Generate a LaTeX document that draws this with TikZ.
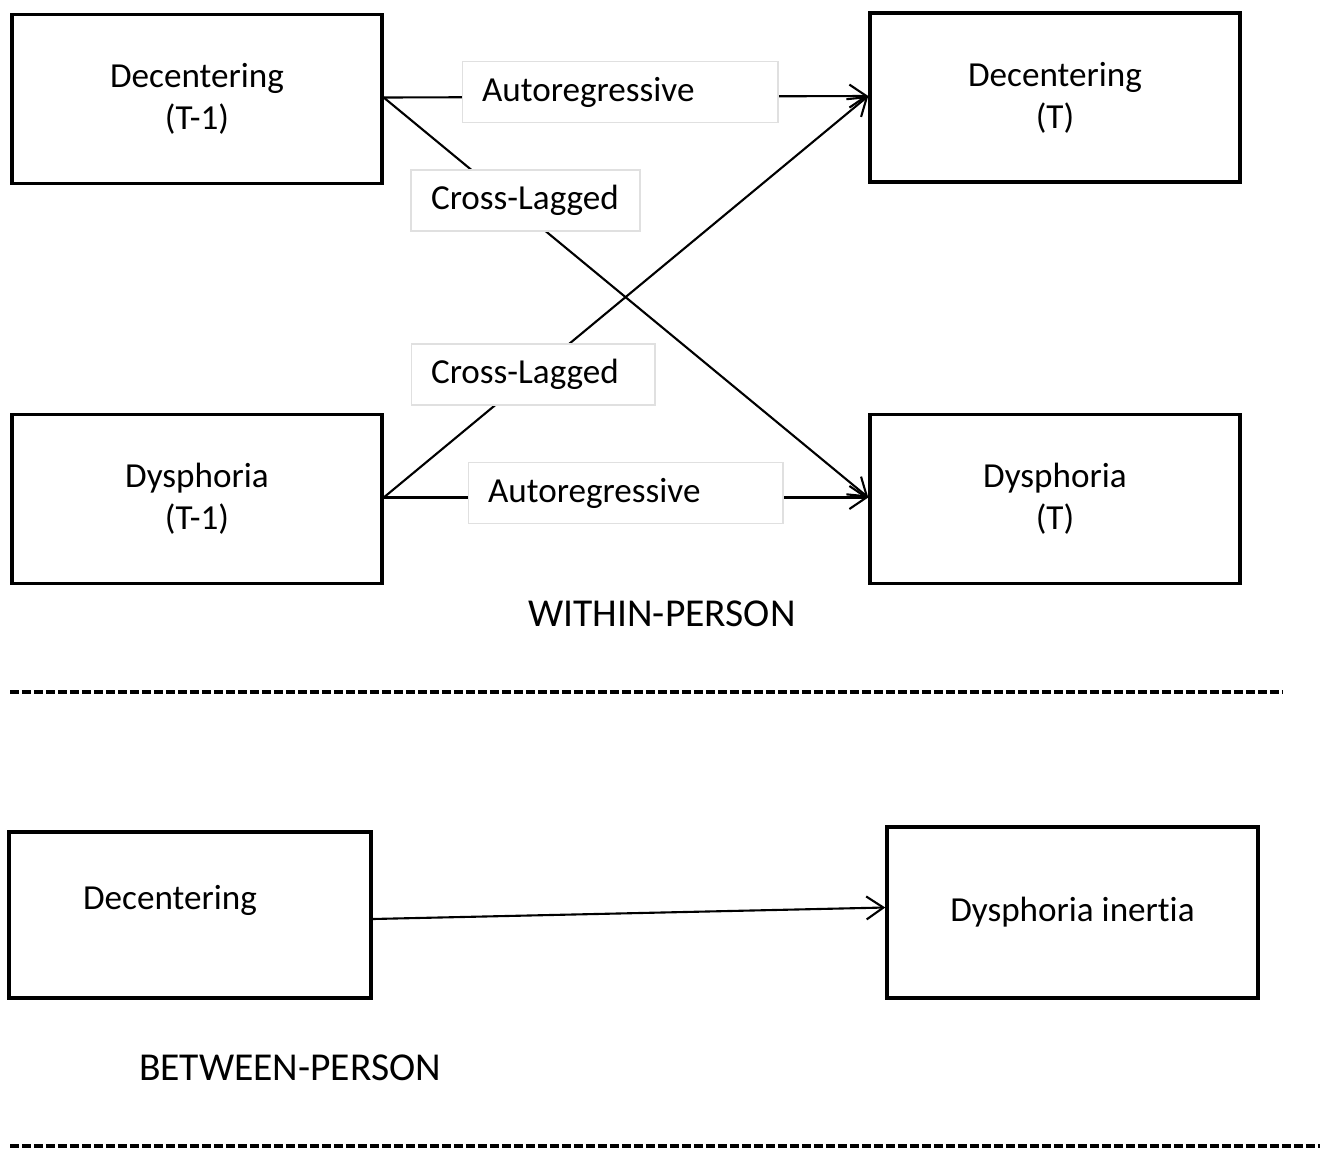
\documentclass[tikz,border=0pt]{standalone}
\usepackage{fontspec}
\setmainfont[Ligatures={NoCommon}]{Carlito}
\usetikzlibrary{arrows.meta}

\tikzset{
  varbox/.style = {draw, line width=2pt, minimum width=7.4cm, minimum height=3.38cm, align=center, font=\fontsize{20}{24}\selectfont},
  lbl/.style = {draw=black!12, line width=0.6pt, fill=white, inner xsep=0.4cm, minimum height=1.22cm, align=left, font=\fontsize{20}{24}\selectfont},
  path/.style = {line width=1.2pt, -{Straight Barb[length=0.34cm, width=0.46cm, line width=1.2pt]}},
  sep/.style = {line width=2.2pt, dash pattern=on 0.19cm off 0.05cm},
  title/.style = {font=\fontsize{22.5}{27}\selectfont}
}

\begin{document}
\begin{tikzpicture}[x=0.02cm, y=-0.02cm]
    \useasboundingbox (0,0) rectangle (1326,1150);

    % Within-person vertices
    \node[varbox] (dec0) at (197,99) {Decentering\\(T-1)};
    \node[varbox] (dec1) at (1055,97.5) {Decentering\\(T)};
    \node[varbox] (dys0) at (197,499) {Dysphoria\\(T-1)};
    \node[varbox] (dys1) at (1055,499) {Dysphoria\\(T)};

    % Within-person edges
    \draw[path] ([yshift=0.03cm]dec0.east) -- ([yshift=0.03cm]dec1.west);
    \draw[path] ([yshift=0.03cm]dec0.east) -- ([yshift=0.03cm]dys1.west);
    \draw[path] ([yshift=0.03cm]dys0.east) -- ([yshift=0.03cm]dec1.west);
    \draw[path] ([yshift=0.03cm]dys0.east) -- ([yshift=0.03cm]dys1.west);

    % Edge labels
    \node[lbl, text width=5.52cm] (ar0) at (620,92) {\raisebox{-0.04cm}{Autoregressive}};
    \node[lbl, text width=3.78cm] (cl0) at (525.5,200.5) {\raisebox{-0.04cm}{Cross-Lagged}};
    \node[lbl, text width=4.08cm] (cl1) at (533,374.5) {\raisebox{-0.04cm}{Cross-Lagged}};
    \node[lbl, text width=5.5cm] (ar1) at (625.5,493) {\raisebox{-0.04cm}{Autoregressive}};

    \node[title] (within) at (662,614) {WITHIN-PERSON};
    \draw[sep] (10,692) -- (1283,692);

    % Between-person vertices
    \node[varbox, minimum width=7.24cm, minimum height=3.32cm,
          label={[font=\fontsize{20}{24}\selectfont, xshift=-0.4cm, yshift=0.3cm]center:Decentering}] (dec) at (190,915) {};
    \node[varbox, minimum width=7.42cm, minimum height=3.42cm] (inert) at (1072.5,912.5) {Dysphoria inertia};

    % Between-person edge
    \draw[path] ([yshift=-0.08cm]dec.east) -- ([yshift=0.1cm]inert.west);

    \node[title] (between) at (290,1068) {BETWEEN-PERSON};
    \draw[sep] (10,1146) -- (1320,1146);
\end{tikzpicture}
\end{document}
